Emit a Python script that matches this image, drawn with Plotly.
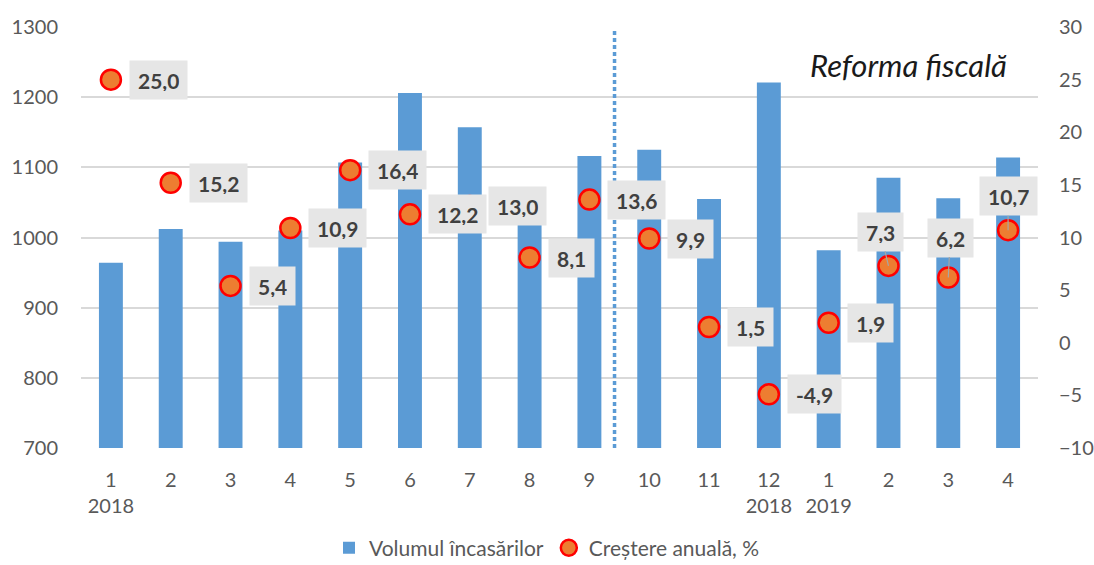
import plotly.graph_objects as go

months = ["1<br>2018", "2", "3", "4", "5", "6", "7", "8", "9", "10", "11",
          "12<br>2018", "1<br>2019", "2", "3", "4"]
volume = [964, 1012, 994, 1010, 1107, 1206, 1157, 1018, 1116, 1125, 1055,
          1221, 982, 1085, 1056, 1114]
growth = [25.0, 15.2, 5.4, 10.9, 16.4, 12.2, 13.0, 8.1, 13.6, 9.9, 1.5,
          -4.9, 1.9, 7.3, 6.2, 10.7]
left_ticks = [700, 800, 900, 1000, 1100, 1200, 1300]
right_ticks = [-10, -5, 0, 5, 10, 15, 20, 25, 30]
reform_pos = 8.42

FONT = "Lato"
TICKC = "#595959"
xs = list(range(len(months)))

fig = go.Figure()
fig.add_trace(go.Bar(
    x=xs, y=volume, name="Volumul încasărilor",
    marker=dict(color="#5B9BD5", line=dict(width=0)),
    yaxis="y",
))
fig.add_trace(go.Scatter(
    x=xs, y=growth, name="Creștere anuală, %", mode="markers",
    marker=dict(size=20, color="#ED7D31", line=dict(color="#FF0000", width=2.5)),
    yaxis="y2",
))

# leader-line offsets for the last three labels (pixels)
special = {13: (-8, -34), 14: (2, -40), 15: (0, -34)}
annotations = []
for i, v in enumerate(growth):
    txt = f"{v:.1f}".replace(".", ",")
    base = dict(x=i, y=v, xref="x", yref="y2", text=f"<b>{txt}</b>",
                font=dict(family=FONT, size=21, color="#404040"),
                bgcolor="#E6E6E6", borderpad=8, height=22)
    if i in special:
        ax, ay = special[i]
        base.update(showarrow=True, ax=ax, ay=ay, arrowhead=0,
                    arrowcolor="#A6A6A6", arrowwidth=1.2, standoff=0)
    else:
        base.update(showarrow=False, xanchor="left", xshift=18)
    annotations.append(base)

annotations.append(dict(
    x=0.865, y=0.91, xref="paper", yref="paper", showarrow=False,
    xanchor="center", yanchor="middle",
    text="<i>Reforma fiscală</i>", font=dict(family=FONT, size=31, color="#1a1a1a"),
))

fig.update_layout(
    width=1094, height=565,
    margin=dict(l=81, r=56, t=27, b=117),
    paper_bgcolor="white", plot_bgcolor="white",
    bargap=0.6,
    font=dict(family=FONT, size=20, color=TICKC),
    showlegend=True,
    legend=dict(orientation="h", x=0.5, xanchor="center", xref="container",
                y=0.03, yanchor="middle", yref="container",
                font=dict(family=FONT, size=21, color=TICKC), itemwidth=30,
                traceorder="normal"),
    xaxis=dict(range=[-0.5, 15.5], tickmode="array", tickvals=xs, ticktext=months,
               showgrid=False, zeroline=False, showline=False, ticks="",
               automargin=False, ticklabelstandoff=18,
               tickfont=dict(family=FONT, size=20, color=TICKC)),
    yaxis=dict(range=[700, 1300], tickvals=left_ticks, showgrid=True,
               gridcolor="#D9D9D9", gridwidth=1.5, zeroline=False, showline=False,
               ticks="", automargin=False, ticklabelstandoff=22,
               tickfont=dict(family=FONT, size=20, color=TICKC)),
    yaxis2=dict(range=[-10, 30], tickvals=right_ticks, overlaying="y", side="right",
                showgrid=False, zeroline=False, showline=False, ticks="",
                automargin=False, ticklabelstandoff=20,
                tickfont=dict(family=FONT, size=20, color=TICKC)),
    annotations=annotations,
    shapes=[dict(type="line", xref="x", yref="paper", x0=reform_pos, x1=reform_pos,
                 y0=0, y1=0.995, line=dict(color="#5B9BD5", width=3.5, dash="4px,3px"))],
)

fig.write_html("out.html", config={"displayModeBar": False},
               post_script="document.body.style.margin='0';document.body.style.padding='0';")
